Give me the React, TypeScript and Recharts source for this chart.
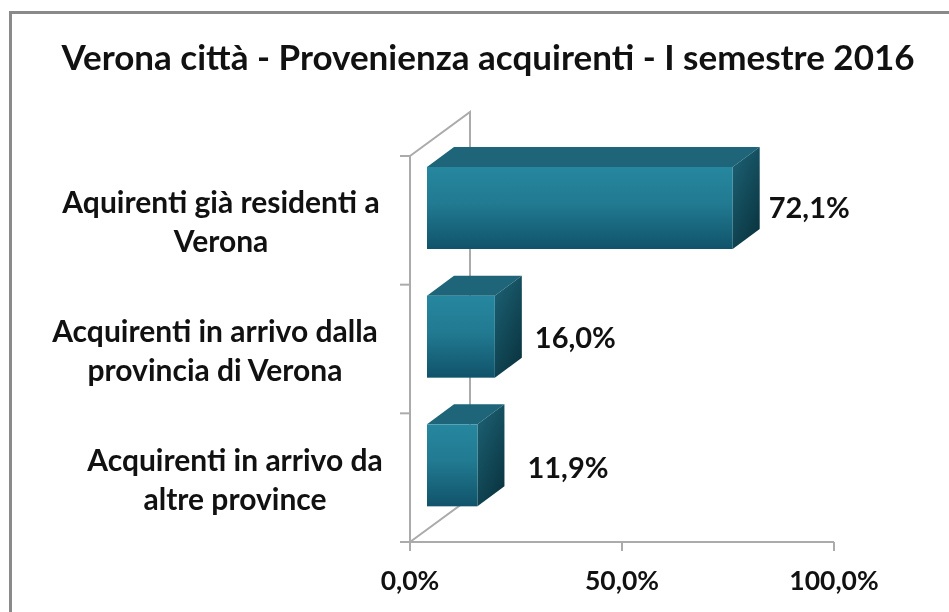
import { Bar, BarChart, Customized, LabelList, XAxis, YAxis } from "recharts";

const labelLines = [
  ["Aquirenti già residenti a", "Verona"],
  ["Acquirenti in arrivo dalla", "provincia di Verona"],
  ["Acquirenti in arrivo da", "altre province"],
];
const categories = labelLines.map((l) => l.join(" "));
const shares = [72.1, 16.0, 11.9];
const xTicks = [0, 50, 100];

const rows = categories.map((name, i) => ({ name, share: shares[i] }));

const FONT = "Lato, sans-serif";
const INK = "#111";
const AXIS = "#ababab";
const PLOT = { left: 410, top: 156, right: 834, bottom: 542 };
const BAND = (PLOT.bottom - PLOT.top) / 3;
// the 3d look: front face sits off the axis, depth goes up and right
const FRONT = { dx: 17, dy: -12 };
const DEPTH = { dx: 27, dy: -20 };
const labelCentre = [221, 215, 235];
const valueGap = [36, 40, 50];
const valueDrop = [0, 1, 3];

const pct = (v: number) => v.toFixed(1).replace(".", ",") + "%";

function Box(props: any) {
  const x = props.x + FRONT.dx;
  const y = props.y + FRONT.dy;
  const { width: w, height: h } = props;
  const { dx, dy } = DEPTH;
  return (
    <g>
      <polygon
        points={`${x},${y} ${x + dx},${y + dy} ${x + w + dx},${y + dy} ${x + w},${y}`}
        fill="#1e6579"
      />
      <polygon
        points={`${x + w},${y} ${x + w + dx},${y + dy} ${x + w + dx},${y + h + dy} ${x + w},${y + h}`}
        fill="url(#sideFace)"
      />
      <rect x={x} y={y} width={w} height={h} fill="url(#frontFace)" />
    </g>
  );
}

function Walls() {
  const wall = { dx: 60, dy: -44 };
  return (
    <g fill="none" stroke={AXIS} strokeWidth={2}>
      <polyline
        points={`${PLOT.left},${PLOT.top} ${PLOT.left + wall.dx},${PLOT.top + wall.dy} ${PLOT.left + wall.dx},${PLOT.bottom + wall.dy} ${PLOT.left},${PLOT.bottom}`}
      />
      <text
        x={488}
        y={70}
        textAnchor="middle"
        fontFamily={FONT}
        fontWeight={700}
        fontSize={35}
        fill={INK}
        stroke="none"
      >
        Verona città - Provenienza acquirenti - I semestre 2016
      </text>
    </g>
  );
}

function CategoryTick(props: any) {
  const { y, index } = props;
  const lines = labelLines[index];
  return (
    <g>
      <line x1={400} x2={PLOT.left} y1={y - BAND / 2} y2={y - BAND / 2} stroke={AXIS} strokeWidth={2} />
      {index === 2 && (
        <line x1={400} x2={PLOT.left} y1={y + BAND / 2} y2={y + BAND / 2} stroke={AXIS} strokeWidth={2} />
      )}
      <text textAnchor="middle" fontFamily={FONT} fontWeight={700} fontSize={30} fill={INK}>
        {lines.map((t, i) => (
          <tspan key={t} x={labelCentre[index]} y={y - 7 + i * 39}>
            {t}
          </tspan>
        ))}
      </text>
    </g>
  );
}

function ValueLabel(props: any) {
  const { x, y, width, height, value, index } = props;
  return (
    <text
      x={x + FRONT.dx + width + valueGap[index]}
      y={y + FRONT.dy + height / 2 + 10 + valueDrop[index]}
      fontFamily={FONT}
      fontWeight={700}
      fontSize={29}
      fill={INK}
    >
      {pct(value)}
    </text>
  );
}

export default function App() {
  return (
    <div
      style={{
        position: "absolute",
        left: 0,
        top: 0,
        width: 949,
        height: 612,
        overflow: "hidden",
        background: "#fff",
        filter: "blur(0.7px)",
      }}
    >
      <div
        style={{
          position: "absolute",
          left: 9,
          top: 11,
          width: 960,
          height: 620,
          borderTop: "3px solid #8a8a8a",
          borderLeft: "3px solid #8a8a8a",
        }}
      />
      <BarChart
        layout="vertical"
        width={949}
        height={612}
        data={rows}
        margin={{ top: PLOT.top, left: 10, right: 949 - PLOT.right, bottom: 0 }}
        style={{ position: "absolute", left: 0, top: 0 }}
      >
        <defs>
          <linearGradient id="frontFace" x1="0" y1="0" x2="0" y2="1">
            <stop offset="0" stopColor="#26879f" />
            <stop offset="0.45" stopColor="#217a91" />
            <stop offset="1" stopColor="#10536a" />
          </linearGradient>
          <linearGradient id="sideFace" x1="0" y1="0" x2="0.6" y2="1">
            <stop offset="0" stopColor="#1d6376" />
            <stop offset="1" stopColor="#0b3743" />
          </linearGradient>
        </defs>
        <Customized component={Walls} />
        <XAxis
          type="number"
          domain={[0, 100]}
          ticks={xTicks}
          tickFormatter={pct}
          interval={0}
          axisLine={{ stroke: AXIS, strokeWidth: 2 }}
          tickLine={{ stroke: AXIS, strokeWidth: 2 }}
          tickSize={9}
          tickMargin={20}
          height={612 - PLOT.bottom}
          tick={{ fontFamily: FONT, fontWeight: 700, fontSize: 26.5, fill: INK }}
        />
        <YAxis
          type="category"
          dataKey="name"
          width={400}
          interval={0}
          axisLine={{ stroke: AXIS, strokeWidth: 2 }}
          tickLine={false}
          tick={<CategoryTick />}
        />
        <Bar dataKey="share" barSize={82} shape={<Box />} isAnimationActive={false}>
          <LabelList dataKey="share" content={<ValueLabel />} />
        </Bar>
      </BarChart>
    </div>
  );
}
